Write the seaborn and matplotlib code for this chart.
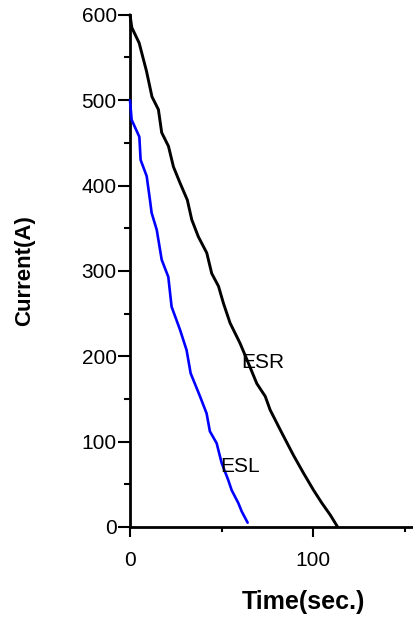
import pandas as pd
import matplotlib
matplotlib.use("Agg")
import matplotlib.pyplot as plt
import seaborn as sns
from matplotlib.ticker import MultipleLocator

esr_time = [0, 1, 5, 9, 12, 15.5, 17.3, 21, 23.7, 27.3, 31.3, 33.7, 37.3, 41.9, 44.6,
            48.3, 51, 54.6, 60.1, 64.6, 69.2, 73.8, 76.5, 82.9, 89.2, 94.7, 100.2,
            104.7, 109.3, 113.3]
esr_current = [600, 585, 567, 534, 504, 489, 462, 446, 422, 403, 383, 360, 340, 321, 297,
               282, 262, 239, 215, 192, 168, 153, 137, 110, 84, 63, 43, 28, 14, 0]

esl_time = [0, 0.9, 5.1, 5.8, 9.1, 10.9, 11.8, 14.6, 17.3, 20.9, 22.7, 27.3, 30.9, 33.1,
            38.2, 41.8, 43.6, 47.3, 50, 53.6, 55.5, 59.1, 61, 64.2]
esl_current = [500, 477, 457, 430, 411, 383, 368, 348, 313, 293, 258, 231, 207, 180,
               153, 133, 112, 98, 75, 55, 43, 28, 18, 5]

sns.set_style("ticks", {'axes.edgecolor': 'black', 'text.color': 'black',
                        'xtick.color': 'black', 'ytick.color': 'black',
                        'axes.labelcolor': 'black'})
plt.rcParams['font.family'] = ['Liberation Sans', 'DejaVu Sans']

df_esr = pd.DataFrame({'Time': esr_time, 'Current': esr_current})
df_esl = pd.DataFrame({'Time': esl_time, 'Current': esl_current})

fig = plt.figure(figsize=(4.14, 6.17), dpi=100)
ax = fig.add_axes([0.314, 0.146, 0.686, 0.830])

sns.lineplot(data=df_esr, x='Time', y='Current', sort=False, color='black', lw=2.1,
             ax=ax, zorder=3, clip_on=False)
sns.lineplot(data=df_esl, x='Time', y='Current', sort=False, color='#0000ff', lw=1.9,
             ax=ax, zorder=3, clip_on=False)

ax.text(60.9, 186, "ESR", fontsize=15, ha='left', va='baseline', color='black')
ax.text(49.5, 64.5, "ESL", fontsize=15, ha='left', va='baseline', color='black')

ax.set_xlim(0, 155)
ax.set_ylim(0, 600)
ax.xaxis.set_major_locator(MultipleLocator(100))
ax.xaxis.set_minor_locator(MultipleLocator(50))
ax.yaxis.set_major_locator(MultipleLocator(100))
ax.yaxis.set_minor_locator(MultipleLocator(50))

sns.despine(ax=ax)
for s in ['left', 'bottom']:
    ax.spines[s].set_linewidth(2.0)
    ax.spines[s].set_color('black')

ax.tick_params(axis='y', which='major', length=8.6, width=1.5, pad=1, labelsize=15)
ax.tick_params(axis='y', which='minor', length=4.3, width=1.5)
ax.tick_params(axis='x', which='major', length=7.5, width=1.5, pad=10, labelsize=15)
ax.tick_params(axis='x', which='minor', length=3.6, width=1.5)
ax.tick_params(which='both', colors='black')

ax.set_xlabel("Time(sec.)", fontsize=18, fontweight='bold', color='black')
ax.set_ylabel("Current(A)", fontsize=16, fontweight='bold', color='black')
ax.xaxis.set_label_coords(0.61, -0.124)
ax.yaxis.set_label_coords(-0.335, 0.5)

fig.savefig("out.png", dpi=100)
